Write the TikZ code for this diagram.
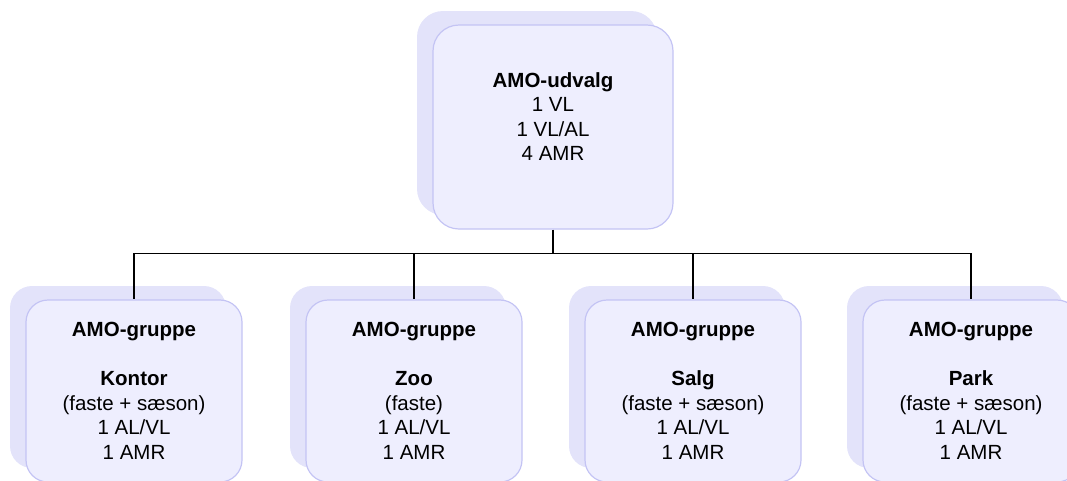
\documentclass[tikz,border=0pt]{standalone}
\usepackage{fontspec}
\setmainfont{Liberation Sans}
\usetikzlibrary{shadows}
\definecolor{boxfill}{RGB}{238,238,254}
\definecolor{boxline}{RGB}{196,196,244}
\definecolor{boxshadow}{RGB}{227,227,250}
\tikzset{
  amobox/.style={draw=boxline, line width=1.2pt, fill=boxfill, rounded corners=22pt,
    align=center, inner sep=0pt, minimum width=216pt, minimum height=182pt,
    font=\fontsize{20.5}{24.5}\selectfont,
    copy shadow={shadow xshift=-16pt, shadow yshift=14pt, fill=boxshadow, draw=none}},
  topbox/.style={amobox, rounded corners=26pt, minimum width=240pt, minimum height=204pt},
  link/.style={line width=1.3pt, black}
}
\begin{document}
\begin{tikzpicture}[x=1pt,y=-1pt]
\useasboundingbox (0,0) rectangle (1067,480);
\node[topbox] (udvalg) at (553,127) {\textbf{AMO-udvalg}\\1 VL\\1 VL/AL\\4 AMR\\[-4pt]};
\node[amobox] (kontor) at (134,391) {\textbf{AMO-gruppe}\\~\\\textbf{Kontor}\\(faste + sæson)\\1 AL/VL\\1 AMR};
\node[amobox] (zoo) at (414,391) {\textbf{AMO-gruppe}\\~\\\textbf{Zoo}\\(faste)\\1 AL/VL\\1 AMR};
\node[amobox] (salg) at (693,391) {\textbf{AMO-gruppe}\\~\\\textbf{Salg}\\(faste + sæson)\\1 AL/VL\\1 AMR};
\node[amobox] (park) at (971,391) {\textbf{AMO-gruppe}\\~\\\textbf{Park}\\(faste + sæson)\\1 AL/VL\\1 AMR};
\coordinate (fork) at ([yshift=-24pt]udvalg.south);
\draw[link] (udvalg.south) -- (fork);
\foreach \g in {kontor,zoo,salg,park}
  \draw[link] (fork) -| (\g.north);
\end{tikzpicture}
\end{document}
